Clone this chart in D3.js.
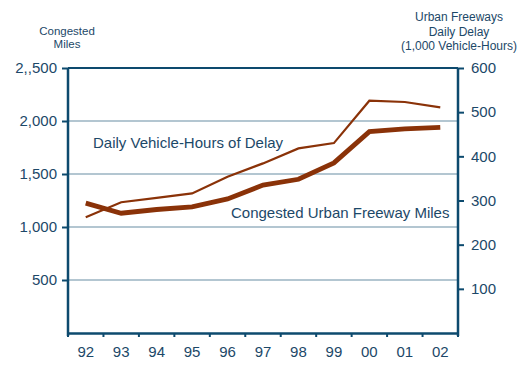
<!DOCTYPE html>
<html>
<head>
<meta charset="utf-8">
<script src="https://cdn.jsdelivr.net/npm/d3@7"></script>
<style>
  body { margin: 0; background: #fff; }
  svg { font-family: "Liberation Sans", Arial, sans-serif; }
</style>
</head>
<body>
<div class="chart"></div>
<script>
// Données
const years = ['92', '93', '94', '95', '96', '97', '98', '99', '00', '01', '02'];
const congestedMiles = [1225, 1130, 1165, 1190, 1265, 1395, 1450, 1605, 1900, 1925, 1940];
const delayHours = [262, 296, 306, 316, 354, 384, 418, 430, 526, 523, 511];
const leftTicks = [500, 1000, 1500, 2000, 2500];
const leftTickLabels = ['500', '1,000', '1,500', '2,000', '2,,500'];
const rightTicks = [100, 200, 300, 400, 500, 600];

const width = 528;
const height = 376;
const margin = { top: 68, right: 70, bottom: 43, left: 68 };

const blue = '#0d4a6e';
const textBlue = '#1c4868';
const brown = '#8a3208';
const gridColor = '#b3c6d1';

const svg = d3.select('.chart')
  .append('svg')
  .attr('width', width)
  .attr('height', height);

// Echelles
const x = d3.scaleBand()
  .domain(years)
  .range([margin.left, width - margin.right])
  .padding(0);

const yLeft = d3.scaleLinear()
  .domain([0, 2500])
  .range([height - margin.bottom, margin.top]);

const yRight = d3.scaleLinear()
  .domain([0, 600])
  .range([height - margin.bottom, margin.top]);

// Grille
svg.append('g')
  .selectAll('line')
  .data(leftTicks.filter(d => d < 2500))
  .join('line')
    .attr('x1', margin.left)
    .attr('x2', width - margin.right)
    .attr('y1', d => yLeft(d))
    .attr('y2', d => yLeft(d))
    .attr('stroke', gridColor)
    .attr('stroke-width', 2);

// Bordure haute
svg.append('line')
  .attr('x1', margin.left)
  .attr('x2', width - margin.right)
  .attr('y1', yLeft(2500))
  .attr('y2', yLeft(2500))
  .attr('stroke', blue)
  .attr('stroke-width', 2);

// Axe gauche
svg.append('g')
  .attr('transform', `translate(${margin.left}, 0)`)
  .call(d3.axisLeft(yLeft).tickValues(leftTicks)
    .tickFormat((d, i) => leftTickLabels[i]).tickSize(6).tickPadding(5))
  .call(g => g.select('.domain').attr('stroke', blue).attr('stroke-width', 2.5).attr('d', `M0,${yLeft(2500)}V${yLeft(0) + 3}`))
  .call(g => g.selectAll('.tick line').attr('stroke', blue).attr('stroke-width', 2))
  .call(g => g.selectAll('.tick text').attr('fill', textBlue).style('font-size', '15px'));

// Axe droit
svg.append('g')
  .attr('transform', `translate(${width - margin.right}, 0)`)
  .call(d3.axisRight(yRight).tickValues(rightTicks).tickSize(6).tickPadding(7))
  .call(g => g.select('.domain').attr('stroke', blue).attr('stroke-width', 2.5).attr('d', `M0,${yRight(600)}V${yRight(0) + 3}`))
  .call(g => g.selectAll('.tick line').attr('stroke', blue).attr('stroke-width', 2))
  .call(g => g.selectAll('.tick text').attr('fill', textBlue).style('font-size', '15px'));

// Axe horizontal
const xAxis = svg.append('g')
  .attr('transform', `translate(0, ${height - margin.bottom})`)
  .call(d3.axisBottom(x).tickSize(0).tickPadding(13))
  .call(g => g.select('.domain').attr('stroke', blue).attr('stroke-width', 2.5))
  .call(g => g.selectAll('.tick text').attr('fill', textBlue).style('font-size', '15px'));

xAxis.append('g')
  .selectAll('line')
  .data(years.map(d => x(d)).concat([x.range()[1]]))
  .join('line')
    .attr('x1', d => d)
    .attr('x2', d => d)
    .attr('y1', 0)
    .attr('y2', 4)
    .attr('stroke', blue)
    .attr('stroke-width', 2);

// Lignes
const cx = d => x(d) + x.bandwidth() / 2;

const lineMiles = d3.line()
  .x((d, i) => cx(years[i]))
  .y(d => yLeft(d));

const lineDelay = d3.line()
  .x((d, i) => cx(years[i]))
  .y(d => yRight(d));

svg.append('path')
  .datum(delayHours)
  .attr('fill', 'none')
  .attr('stroke', brown)
  .attr('stroke-width', 2.2)
  .attr('d', lineDelay);

svg.append('path')
  .datum(congestedMiles)
  .attr('fill', 'none')
  .attr('stroke', brown)
  .attr('stroke-width', 4.8)
  .attr('d', lineMiles);

// Annotations
svg.append('text')
  .attr('x', 93)
  .attr('y', 148)
  .attr('fill', textBlue)
  .style('font-size', '15px')
  .text('Daily Vehicle-Hours of Delay');

svg.append('text')
  .attr('x', 231)
  .attr('y', 218)
  .attr('fill', textBlue)
  .style('font-size', '15px')
  .text('Congested Urban Freeway Miles');

// Titres des axes
const leftTitle = svg.append('text')
  .attr('text-anchor', 'middle')
  .attr('fill', textBlue)
  .style('font-size', '11.5px');
['Congested', 'Miles'].forEach((t, i) => {
  leftTitle.append('tspan').attr('x', 67).attr('y', 35 + i * 13).text(t);
});

const rightTitle = svg.append('text')
  .attr('text-anchor', 'middle')
  .attr('fill', textBlue)
  .style('font-size', '12px');
['Urban Freeways', 'Daily Delay', '(1,000 Vehicle-Hours)'].forEach((t, i) => {
  rightTitle.append('tspan').attr('x', 459).attr('y', 21 + i * 14.5).text(t);
});
</script>
</body>
</html>
